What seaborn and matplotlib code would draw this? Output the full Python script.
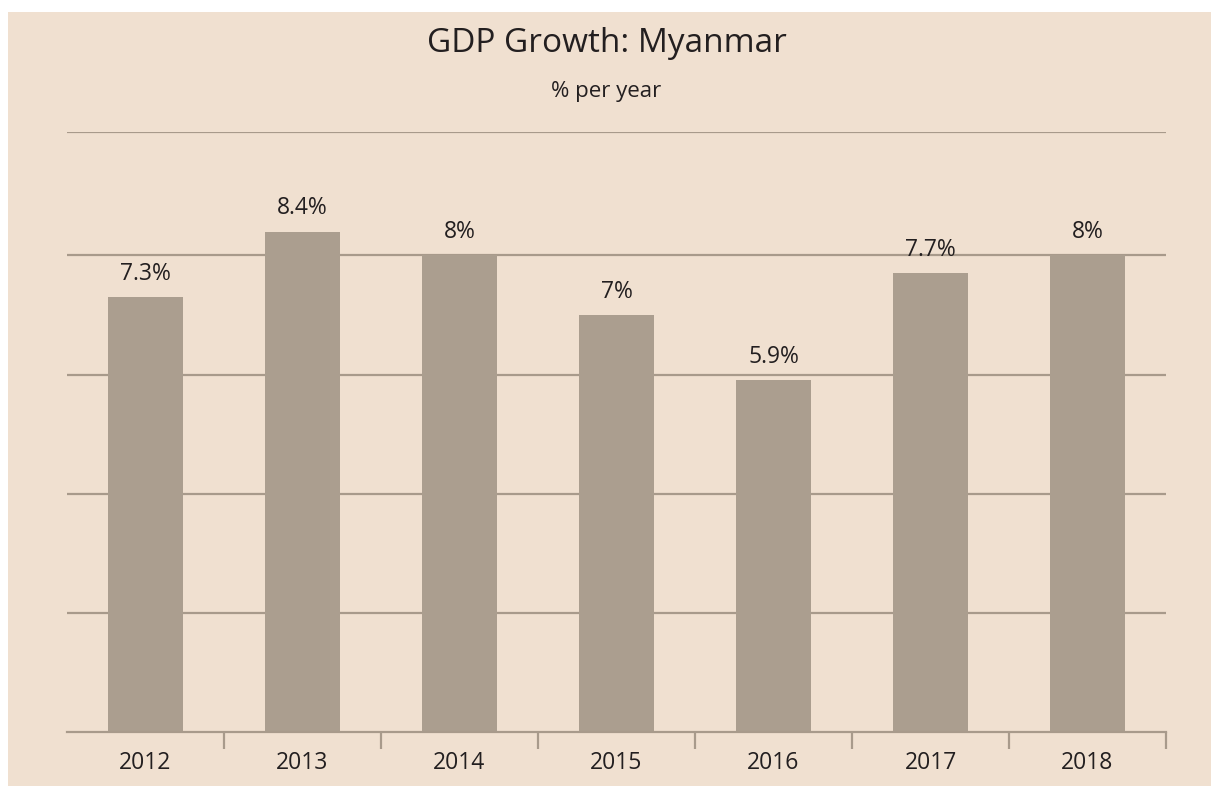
import matplotlib
matplotlib.use("Agg")
import matplotlib.pyplot as plt
import seaborn as sns
import pandas as pd
from matplotlib.patches import Rectangle

years = ["2012", "2013", "2014", "2015", "2016", "2017", "2018"]
growth = [7.3, 8.4, 8.0, 7.0, 5.9, 7.7, 8.0]
labels = ["7.3%", "8.4%", "8%", "7%", "5.9%", "7.7%", "8%"]

BG = "#F0E0D0"
BAR = "#AB9E8F"
GRID = "#A89A8B"
TXT = "#231F20"

sns.set_theme(style="white")
plt.rcParams['font.family'] = ['Open Sans', 'DejaVu Sans']

W, H = 1213, 786
fig = plt.figure(figsize=(12.13, 7.86), dpi=100, facecolor="white")
fig.patches.append(Rectangle((8 / W, -0.01), (1211 - 8) / W, 1.01 - 12 / H,
                             transform=fig.transFigure,
                             facecolor=BG, edgecolor="none", zorder=-10))

left, right, top, bottom = 67, 1166, 132, 732
ax = fig.add_axes([left / W, 1 - bottom / H, (right - left) / W, (bottom - top) / H])
ax.set_facecolor("none")

df = pd.DataFrame({"year": years, "growth": growth})
sns.barplot(data=df, x="year", y="growth", color=BAR, width=0.48, ax=ax,
            saturation=1, edgecolor="none")

ymax = 10.07
ax.set_ylim(0, ymax)
ax.set_xlim(-0.5, len(years) - 0.5)
for v in [2, 4, 6, 8, ymax]:
    ax.axhline(v, color=GRID, lw=1.6, zorder=0)
for s in ["top", "right", "left"]:
    ax.spines[s].set_visible(False)
ax.spines["bottom"].set_color(GRID)
ax.spines["bottom"].set_linewidth(1.6)
ax.set_yticks([])
ax.set_xlabel("")
ax.set_ylabel("")

ax.set_xticks(range(len(years)))
ax.set_xticklabels(years)
ax.set_xticks([i + 0.5 for i in range(len(years))], minor=True)
ax.tick_params(axis="x", which="major", bottom=False, length=0, pad=14,
               labelsize=16.5, labelcolor=TXT)
ax.tick_params(axis="x", which="minor", bottom=True, length=12, width=1.6,
               color=GRID, direction="out")

for i, (v, lab) in enumerate(zip(growth, labels)):
    ax.annotate(lab, (i, v), xytext=(0, 8), textcoords="offset points",
                ha="center", va="bottom", fontsize=16.5, color=TXT)

fig.text(0.5, 1 - 43 / H, "GDP Growth: Myanmar", ha="center", va="center",
         fontsize=24, color=TXT)
fig.text(0.5, 1 - 92 / H, "% per year", ha="center", va="center",
         fontsize=16, color=TXT)

fig.savefig("out.png", dpi=100, facecolor="white")
